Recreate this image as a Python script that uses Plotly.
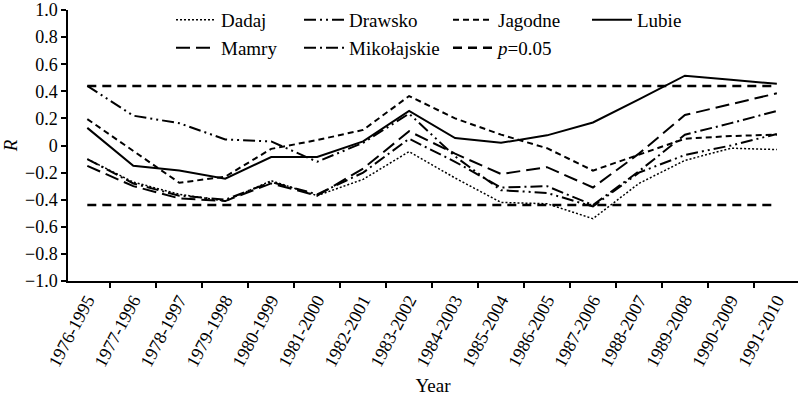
import plotly.graph_objects as go

categories = ["1976-1995", "1977-1996", "1978-1997", "1979-1998", "1980-1999",
              "1981-2000", "1982-2001", "1983-2002", "1984-2003", "1985-2004",
              "1986-2005", "1987-2006", "1988-2007", "1989-2008", "1990-2009",
              "1991-2010"]

dadaj = [-0.10, -0.27, -0.36, -0.41, -0.26, -0.37, -0.25, -0.045, -0.24, -0.42,
         -0.43, -0.54, -0.28, -0.11, -0.02, -0.03]
drawsko = [0.44, 0.22, 0.165, 0.045, 0.03, -0.12, 0.02, 0.235, -0.08, -0.33,
           -0.35, -0.45, -0.20, -0.07, 0.00, 0.085]
jagodne = [0.195, -0.04, -0.275, -0.23, -0.025, 0.04, 0.115, 0.365, 0.20, 0.08,
           -0.02, -0.185, -0.07, 0.05, 0.07, 0.08]
lubie = [0.13, -0.15, -0.185, -0.245, -0.085, -0.085, 0.03, 0.255, 0.055, 0.02,
         0.075, 0.17, 0.34, 0.515, 0.485, 0.455]
mamry = [-0.15, -0.30, -0.39, -0.41, -0.28, -0.37, -0.17, 0.105, -0.06, -0.21,
         -0.16, -0.31, -0.06, 0.225, 0.305, 0.385]
mikolajskie = [-0.10, -0.28, -0.37, -0.40, -0.27, -0.36, -0.20, 0.05, -0.12, -0.31,
               -0.30, -0.44, -0.19, 0.08, 0.165, 0.255]
p_levels = [0.44, -0.44]

y_tickvals = [1.0, 0.8, 0.6, 0.4, 0.2, 0.0, -0.2, -0.4, -0.6, -0.8, -1.0]
y_ticktext = ["1.0", "0.8", "0.6", "0.4", "0.2", "0", "\u22120.2", "\u22120.4",
              "\u22120.6", "\u22120.8", "\u22121.0"]

FONT = "Liberation Serif"
FS = 19

L, R, T, B = 68, 2, 10, 115
W, H = 800, 396
pw = W - L - R
ph = H - T - B


def lx(px):
    return (px - L) / pw


def ly(py):
    return (H - B - py) / ph


# (name, values, line style, legend id, legend x px, legend row centre y px)
series = [
    ("Dadaj", dadaj, dict(color="black", width=1.5, dash="2px,2px"), "legend", 171, 20),
    ("Drawsko", drawsko, dict(color="black", width=2, dash="12px,4px,2px,4px,2px,4px"), "legend2", 299, 20),
    ("Jagodne", jagodne, dict(color="black", width=2, dash="6px,4px"), "legend3", 448, 20),
    ("Lubie", lubie, dict(color="black", width=2), "legend4", 587, 20),
    ("Mamry", mamry, dict(color="black", width=2, dash="14px,6px"), "legend5", 171, 48),
    ("Mikołajskie", mikolajskie, dict(color="black", width=2, dash="12px,4px,2px,4px"), "legend6", 299, 48),
]

fig = go.Figure()

for name, vals, ln, lg, _, _ in series:
    fig.add_trace(go.Scatter(x=categories, y=vals, mode="lines", name=name,
                             line=ln, legend=lg))

# significance lines
px_, py_ = [], []
for lvl in p_levels:
    px_ += categories + [None]
    py_ += [lvl] * len(categories) + [None]
fig.add_trace(go.Scatter(x=px_, y=py_, mode="lines", name="<i>p</i>=0.05",
                         line=dict(color="black", width=2.5, dash="9px,6px"),
                         legend="legend7", connectgaps=False))

leg_common = dict(orientation="v", xanchor="left", yanchor="middle",
                  bgcolor="rgba(0,0,0,0)", borderwidth=0,
                  font=dict(family=FONT, size=FS, color="black"),
                  itemwidth=40, tracegroupgap=0)

legends = {}
for _, _, _, lg, x0, y0 in series:
    legends[lg] = dict(x=lx(x0), y=ly(y0), **leg_common)
legends["legend7"] = dict(x=lx(448), y=ly(48), **leg_common)

fig.update_layout(
    width=W, height=H,
    margin=dict(l=L, r=R, t=T, b=B, autoexpand=False),
    paper_bgcolor="white", plot_bgcolor="white",
    font=dict(family=FONT, size=FS, color="black"),
    showlegend=True,
    **legends,
    xaxis=dict(
        type="category",
        categoryorder="array", categoryarray=categories,
        range=[-0.42, 15.46],
        tickson="boundaries",
        automargin=False,
        ticks="outside", ticklen=5, tickwidth=1.5, tickcolor="black",
        showline=True, linecolor="black", linewidth=1.5,
        showgrid=False, zeroline=False,
        tickangle=-62,
        ticklabeloverflow="allow",
        tickfont=dict(family=FONT, size=18, color="black"),
        title=dict(text="Year", font=dict(family=FONT, size=FS, color="black"), standoff=10),
    ),
    yaxis=dict(
        range=[-1.0, 1.0],
        automargin=False,
        tickmode="array", tickvals=y_tickvals, ticktext=y_ticktext,
        ticks="outside", ticklen=5, tickwidth=1.5, tickcolor="black",
        showline=True, linecolor="black", linewidth=1.5,
        showgrid=False, zeroline=False,
        ticklabeloverflow="allow",
        tickfont=dict(family=FONT, size=18, color="black"),
        title=dict(text="<i>R</i>", font=dict(family=FONT, size=FS, color="black"), standoff=8),
    ),
)

fig.write_html("out.html",
               config={"displayModeBar": False},
               post_script="document.body.style.margin='0';document.body.style.overflow='hidden';")
